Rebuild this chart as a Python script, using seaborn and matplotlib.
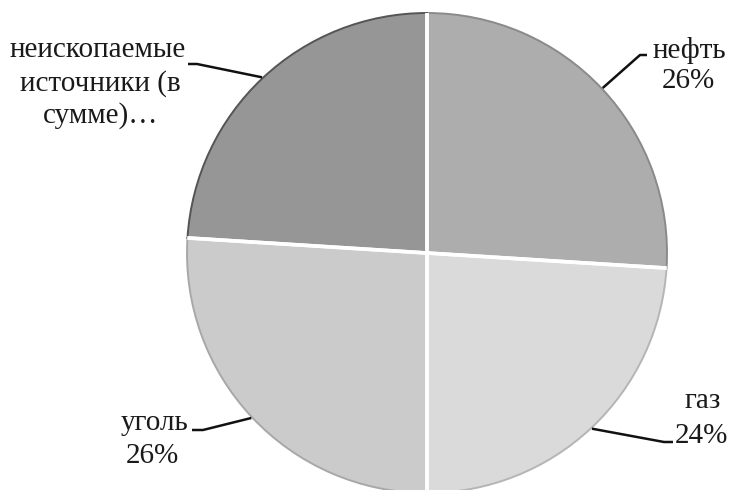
import numpy as np
import matplotlib
matplotlib.use("Agg")
import matplotlib.pyplot as plt
import seaborn as sns

# ---- data ----
categories = ["нефть", "газ", "уголь", "неископаемые\nисточники (в\nсумме)…"]
values = [26, 24, 26, 24]
pct_labels = ["26%", "24%", "26%", ""]
colors = ["#adadad", "#dadada", "#cbcbcb", "#969696"]
edge_colors = ["#8a8a8a", "#b5b5b5", "#a8a8a8", "#555555"]

sns.set_theme(style="white")
plt.rcParams["font.family"] = ["Liberation Serif", "DejaVu Serif"]

W, H = 731, 490
fig = plt.figure(figsize=(W / 100, H / 100), dpi=100)
ax = fig.add_axes([0, 0, 1, 1])

cx, cy, R = 427, H - 253, 240
wedges, _ = ax.pie(values, colors=colors, startangle=90, counterclock=False,
                   center=(cx, cy), radius=R,
                   wedgeprops=dict(linewidth=1.4))
for w, ec in zip(wedges, edge_colors):
    w.set_edgecolor(ec)

# white separators along wedge boundaries
for w in wedges:
    for th in (w.theta1, w.theta2):
        t = np.deg2rad(th)
        ax.plot([cx, cx + R * np.cos(t)], [cy, cy + R * np.sin(t)],
                color="white", lw=2.6, solid_capstyle="butt", zorder=3)

ax.set_xlim(0, W)
ax.set_ylim(0, H)
ax.set_aspect("equal")
ax.axis("off")

FS = 21
def P(x, y):
    return x, H - y

# label layout: (line baselines / centres) and leader elbows, in pixel coords
label_lines = [
    [(689, 58), (688, 88)],
    [(703, 408), (701, 443)],
    [(155, 430), (152, 463)],
    [(98, 57), (100, 91), (101, 123)],
]
leader_pts = [
    [(640, 55), (647, 55)],
    [(664, 442), (673, 442)],
    [(203, 430), (192, 430)],
    [(197, 64), (188, 64)],
]

for i, w in enumerate(wedges):
    lines = categories[i].split("\n")
    if pct_labels[i]:
        lines.append(pct_labels[i])
    for txt, (x, y) in zip(lines, label_lines[i]):
        ax.text(*P(x, y), txt, ha="center", va="baseline", fontsize=FS,
                color="#1a1a1a", zorder=5)
    mid = np.deg2rad((w.theta1 + w.theta2) / 2)
    ax0 = (cx + (R + 1) * np.cos(mid), cy + (R + 1) * np.sin(mid))
    xs = [ax0[0]] + [p[0] for p in leader_pts[i]]
    ys = [ax0[1]] + [H - p[1] for p in leader_pts[i]]
    ax.plot(xs, ys, color="#111111", lw=1.8, zorder=4,
            solid_joinstyle="round", solid_capstyle="butt")

fig.savefig("out.png", dpi=100, facecolor="white")
